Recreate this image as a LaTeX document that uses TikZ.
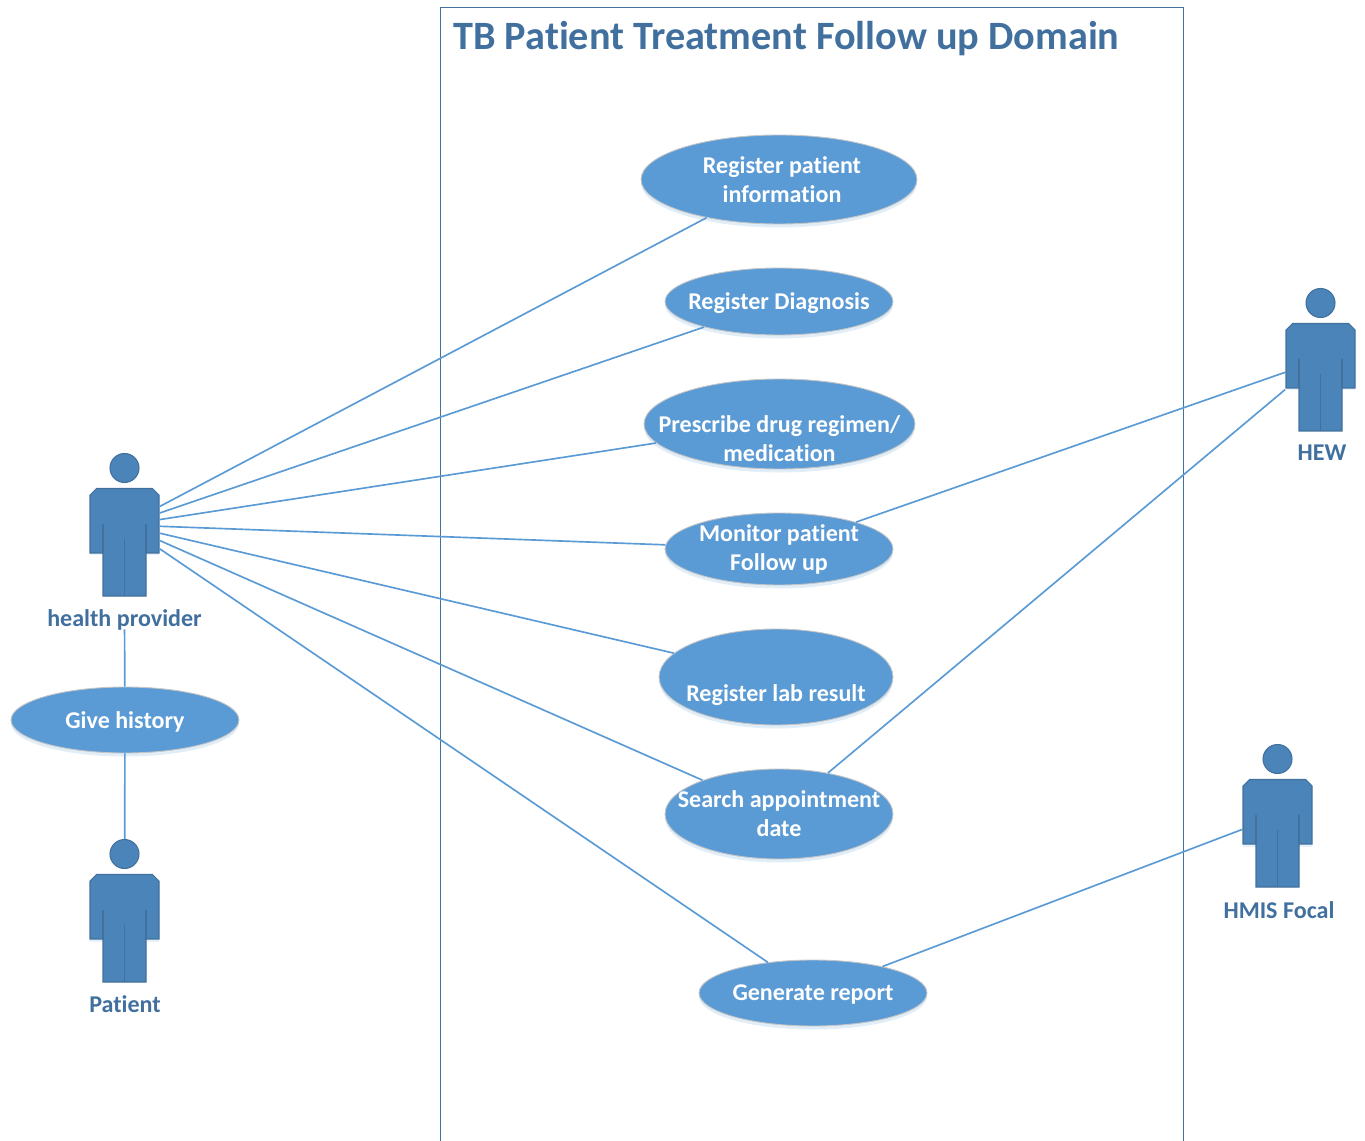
\documentclass[tikz,border=0pt]{standalone}
\usepackage{fontspec}
\setmainfont[Ligatures=CommonOff]{Carlito}
\usetikzlibrary{shapes.geometric,shadows}

\definecolor{casefill}{HTML}{5B9BD5}
\definecolor{manfill}{HTML}{4A84B8}
\definecolor{manline}{HTML}{41719C}
\definecolor{textblue}{HTML}{41709F}

\tikzset{
    usecase/.style={ellipse, inner sep=-24pt, fill=casefill, draw=gray!45, line width=0.5pt,
        text=white, align=center, font=\fontsize{13.7}{16.5}\selectfont\bfseries,
        drop shadow={shadow xshift=0pt, shadow yshift=-2pt, opacity=0.18, fill=casefill}},
    oneline/.style={text depth=0pt},
    actorbox/.style={rectangle, minimum width=1.4cm, minimum height=2.84cm, inner sep=0pt},
    actorname/.style={text=textblue, inner sep=0pt, minimum height=0.44cm, text depth=0pt,
        font=\fontsize{13.7}{16}\selectfont\bfseries},
    link/.style={draw=casefill, line width=0.95pt},
    pics/person/.style={code={
        \fill[casefill!40, opacity=0.35] (-34.5,30.5) -- (34.5,30.5) -- (34.5,28) -- (-34.5,28) -- cycle;
        \filldraw[fill=manfill, draw=manline, line width=0.6pt] (0,-57) circle[radius=14.5];
        \filldraw[fill=manfill, draw=manline, line width=0.6pt]
            (-28,-36.5) -- (28,-36.5) -- (34.5,-30) -- (34.5,28) -- (21.5,28) -- (21.5,71)
            -- (-21.5,71) -- (-21.5,28) -- (-34.5,28) -- (-34.5,-30) -- cycle;
        \draw[manline, line width=0.6pt] (-21.5,-1) -- (-21.5,28);
        \draw[manline, line width=0.6pt] (21.5,-1) -- (21.5,28);
        \draw[manline, line width=0.6pt] (0,14) -- (0,71);
    }},
}

\begin{document}
\begin{tikzpicture}[x=0.02cm, y=-0.02cm]
    \useasboundingbox (0,0) rectangle (1365,1141);

    % system boundary
    \draw[manline, line width=0.45pt] (440.5,1141) -- (440.5,7) -- (1183.5,7) -- (1183.5,1141);
    \node[anchor=west, inner sep=0pt, text=textblue, font=\fontsize{22.9}{26}\selectfont\bfseries] (title) at (453,39) {TB Patient Treatment Follow up Domain};

    % actors
    \node[actorbox] (provider) at (124.5,525) {};
    \node[actorbox] (patient) at (124.5,911) {};
    \node[actorbox] (hew) at (1320.5,360) {};
    \node[actorbox] (hmis) at (1277.5,816) {};

    \node[actorname] (providername) at (124.5,618) {health provider};
    \node[actorname] (patientname) at (125,1004) {Patient};
    \node[actorname] (hewname) at (1322,453) {HEW};
    \node[actorname] (hmisname) at (1279,910) {HMIS Focal};

    % use cases
    \node[usecase, minimum width=5.52cm, minimum height=1.78cm] (reginfo) at (779,179.5) {\hspace*{3.4pt}Register patient\\\hspace*{3.4pt}information};
    \node[usecase, oneline, minimum width=4.56cm, minimum height=1.34cm] (regdiag) at (779,301.5) {Register Diagnosis};
    \node[usecase, minimum width=5.42cm, minimum height=1.80cm] (prescribe) at (779.5,424) {\strut\\[-2pt]Prescribe drug regimen/\\medication};
    \node[usecase, minimum width=4.56cm, minimum height=1.44cm] (monitor) at (779,549) {Monitor patient\\Follow up};
    \node[usecase, minimum width=4.68cm, minimum height=1.92cm] (reglab) at (776,677) {\strut\\[2pt]Register lab result};
    \node[usecase, minimum width=4.56cm, minimum height=1.80cm] (search) at (779,814) {Search appointment\\date};
    \node[usecase, oneline, minimum width=4.56cm, minimum height=1.32cm] (report) at (813,993) {Generate report};
    \node[usecase, oneline, minimum width=4.56cm, minimum height=1.32cm] (history) at (125,720) {Give history};

    \draw[link] (provider) -- (reginfo);
    \draw[link] (provider) -- (regdiag);
    \draw[link] (provider) -- (prescribe);
    \draw[link] (provider) -- (monitor);
    \draw[link] (provider) -- (reglab);
    \draw[link] (provider) -- (search);
    \draw[link] (provider) -- (report);

    \draw[link] (providername) -- (history);
    \draw[link] (history) -- (patient);

    \draw[link] (monitor) -- (hew);
    \draw[link] (search) -- (hew);
    \draw[link] (report) -- (hmis);

    \pic at (provider) {person};
    \pic at (patient) {person};
    \pic at (hew) {person};
    \pic at (hmis) {person};
\end{tikzpicture}
\end{document}
